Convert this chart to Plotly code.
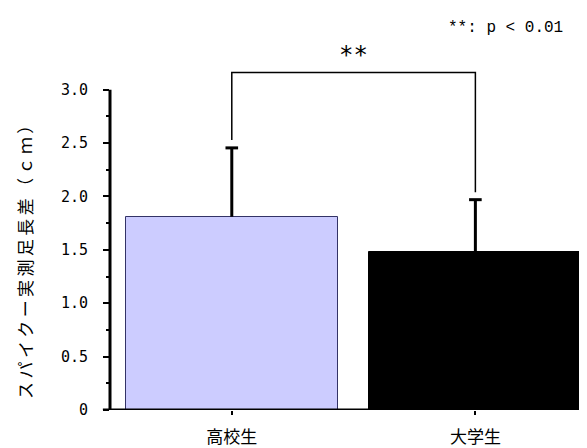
import plotly.graph_objects as go

categories = ["高校生", "大学生"]
means = [1.81, 1.48]
sds = [0.645, 0.49]
bar_colors = ["#CCCCFF", "#000000"]
y_tickvals = [0, 0.5, 1.0, 1.5, 2.0, 2.5, 3.0]
y_ticktext = ["0", "0.5", "1.0", "1.5", "2.0", "2.5", "3.0"]
y_minor = [0.25, 0.75, 1.25, 1.75, 2.25, 2.75]
bracket_top = 3.16
bracket_left_bottom = 2.53
bracket_right_bottom = 2.04

tops = [m + s for m, s in zip(means, sds)]

fig = go.Figure()
fig.add_trace(go.Bar(
    x=[0, 1], y=means,
    width=0.87,
    marker=dict(color=bar_colors, line=dict(color=["#333366", "#000000"], width=1)),
    showlegend=False,
))
# error bars (upper only, cap at top only)
fig.add_trace(go.Scatter(
    x=[0, 1], y=tops, mode="markers",
    marker=dict(symbol="line-ew-open", size=9, color="black", line=dict(color="black", width=3)),
    error_y=dict(type="data", symmetric=False, array=[0, 0], arrayminus=sds,
                 color="black", thickness=3, width=0),
    showlegend=False, hoverinfo="skip",
))

# significance bracket
fig.add_trace(go.Scatter(
    x=[0, 0, 1, 1],
    y=[bracket_left_bottom, bracket_top, bracket_top, bracket_right_bottom],
    mode="lines", line=dict(color="black", width=1.5), showlegend=False,
    hoverinfo="skip",
))

# axis lines
fig.add_shape(type="line", xref="paper", yref="y", x0=0, x1=0, y0=0, y1=3.0,
              line=dict(color="black", width=3))
fig.add_shape(type="line", xref="paper", yref="y", x0=-0.015, x1=1, y0=0, y1=0,
              line=dict(color="black", width=3))

fig.add_annotation(x=0.5, y=bracket_top, xref="x", yref="y", text="**",
                   showarrow=False, yanchor="bottom", yshift=2,
                   font=dict(family="DejaVu Sans Mono", size=24, color="black"))
fig.add_annotation(x=1, y=1, xref="paper", yref="paper", text="**: p < 0.01",
                   showarrow=False, xanchor="right", yanchor="bottom", xshift=-20, yshift=8,
                   font=dict(family="Liberation Mono", size=16, color="black"))
title = "\u2009".join("スパイクー実測足長差（ｃｍ）")
fig.add_annotation(x=-0.18, y=1.42, xref="paper", yref="y",
                   text=title, textangle=-90, xanchor="center", yanchor="middle",
                   showarrow=False,
                   font=dict(family="Noto Sans CJK JP", size=17, color="black"))

fig.update_layout(
    width=579, height=440,
    margin=dict(l=102, r=2, t=39, b=38, autoexpand=False),
    paper_bgcolor="white", plot_bgcolor="white",
    bargap=0,
    xaxis=dict(range=[-0.5, 1.45], tickvals=[0, 1], ticktext=categories,
               automargin=False,
               showline=False, showgrid=False, zeroline=False,
               ticks="outside", ticklen=4, tickwidth=2, tickcolor="black",
               ticklabelstandoff=8,
               tickfont=dict(family="Noto Sans CJK JP", size=17, color="black")),
    yaxis=dict(range=[0, 3.4], tickvals=y_tickvals, ticktext=y_ticktext,
               automargin=False,
               showline=False, showgrid=False, zeroline=False,
               ticks="outside", ticklen=6, tickwidth=2, tickcolor="black",
               ticklabelstandoff=12,
               minor=dict(tickvals=y_minor, ticks="outside", ticklen=3, tickwidth=2, tickcolor="black"),
               tickfont=dict(family="DejaVu Sans Mono", size=15, color="black")),
)

fig.write_html("out.html")
